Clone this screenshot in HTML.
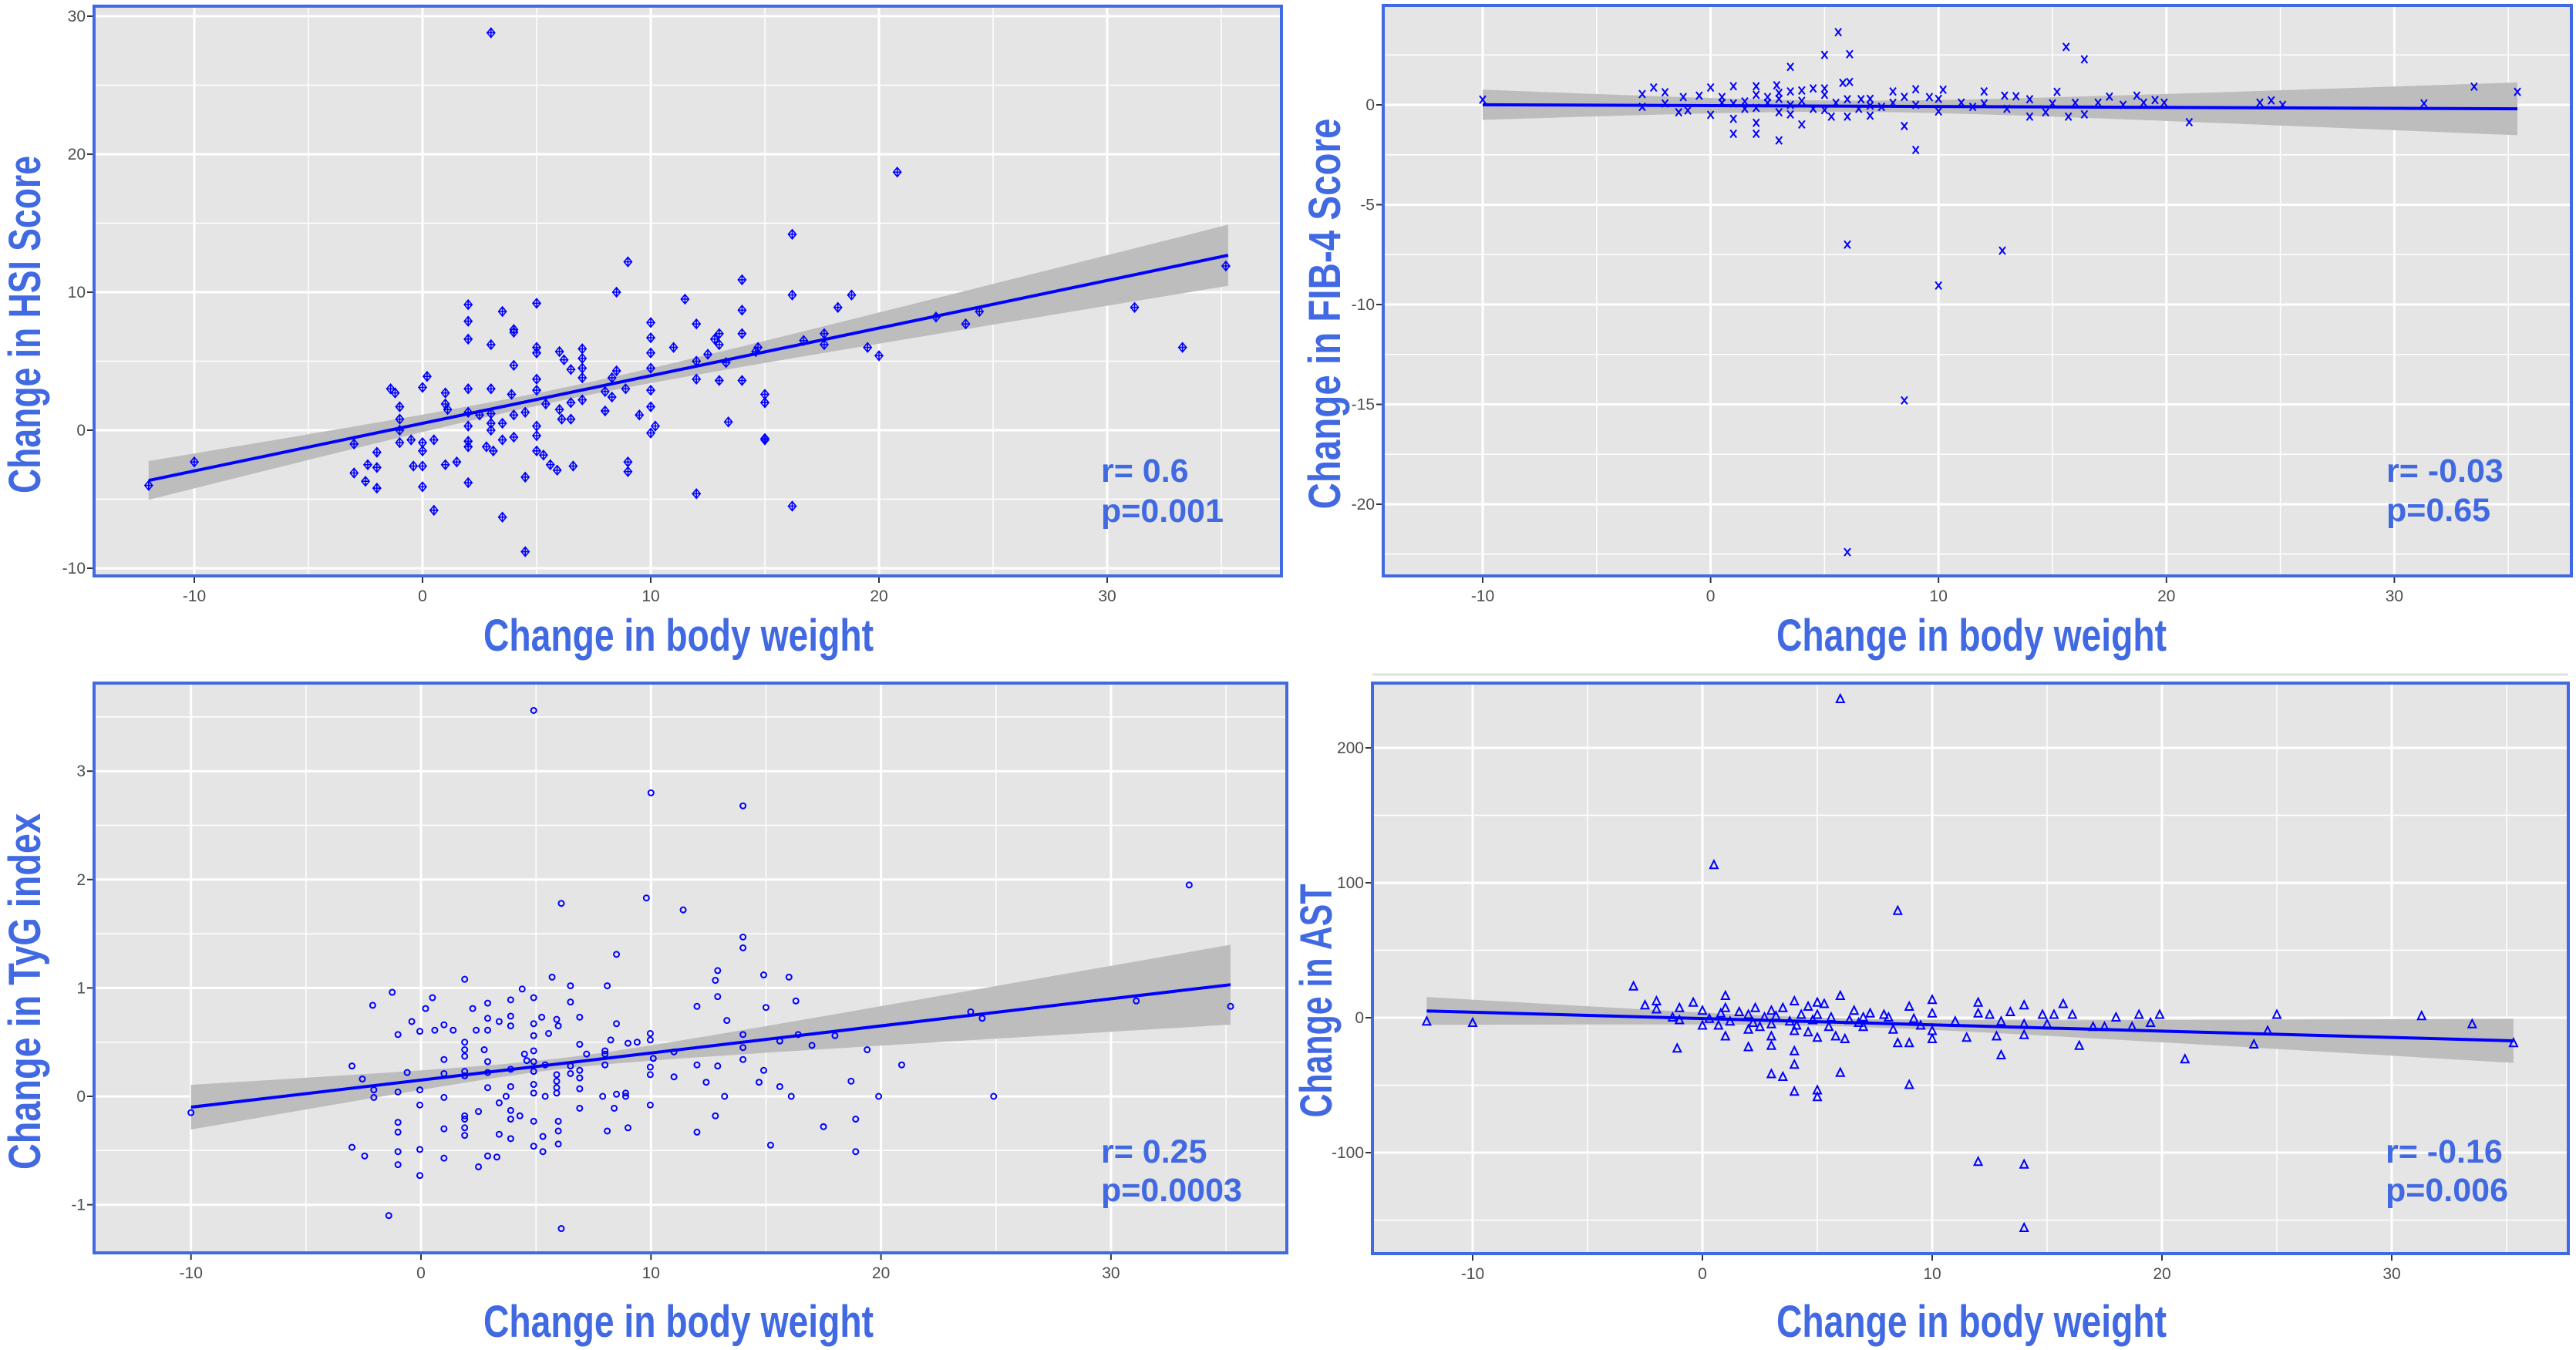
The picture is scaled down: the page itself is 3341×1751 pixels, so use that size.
<!DOCTYPE html>
<html><head><meta charset="utf-8"><title>Body weight change correlations</title>
<style>
html,body{margin:0;padding:0;background:#fff;}
svg{display:block;}
.tick{font-family:"Liberation Sans Narrow","Liberation Sans",sans-serif;font-size:21px;fill:#4D4D4D;}
.atitle{font-family:"Liberation Sans Narrow","Liberation Sans",sans-serif;font-weight:bold;font-size:58px;fill:#4169E1;}
.stat{font-family:"Liberation Sans",sans-serif;font-weight:bold;font-size:43px;fill:#4169E1;}
</style></head>
<body>
<svg id="chart" width="3341" height="1751" viewBox="0 0 3341 1751" xmlns="http://www.w3.org/2000/svg"></svg>
<script>
// ---------- DATA ----------
const hsiData = [[3,28.8],[9,12.2],[8.5,10],[14,10.9],[11.5,9.5],[2,9.1],[2,7.9],[2,6.6],[3.5,8.6],[5,9.2],[4,7.3],[4,7.1],[3,6.2],[10,7.8],[10,6.7],[12,7.7],[14,8.7],[14,7],[13,7],[12.8,6.6],[11,6],[5,6],[5,5.6],[6,5.7],[7,5.9],[7,5.2],[7,4.5],[7,3.8],[4,4.7],[6.5,4.4],[6.2,5.1],[10,5.6],[10,4.5],[12,5],[12.5,5.5],[12,3.7],[13,3.6],[14,3.6],[13.3,4.9],[8.5,4.3],[8.3,3.8],[5,3.7],[5,2.9],[3,3],[2,3],[0.2,3.9],[0,3.1],[-1.4,3],[-1.2,2.7],[1,2.7],[1,1.9],[1.1,1.5],[-1,1.7],[-1,0.8],[-1,0],[-1,-0.9],[0,-0.9],[0,-1.5],[-0.5,-0.7],[0.5,-0.7],[2,1.3],[2,0.3],[2,-0.8],[2,-1.2],[2.5,1.1],[3,1.2],[3,0.5],[3,0],[2.8,-1.2],[3.1,-1.5],[3.5,0.5],[3.5,-0.7],[4,1.1],[4,-0.5],[3.9,2.6],[4.5,1.3],[5,0.3],[5,-0.4],[5,-1.5],[5.3,-1.8],[5.6,-2.5],[5.9,-2.9],[6.6,-2.6],[5.4,1.9],[6,1.5],[6.1,0.8],[6.5,0.8],[6.5,2],[7,2.2],[8,2.8],[8,1.4],[8.3,2.4],[8.9,3],[9.5,1.1],[10.2,0.3],[10,-0.2],[10,1.7],[10,2.9],[13.4,0.6],[9,-2.3],[9,-3],[12,-4.6],[4.5,-3.4],[3.5,-6.3],[4.5,-8.8],[0.5,-5.8],[0,-2.6],[0,-4.1],[-0.4,-2.6],[1,-2.5],[1.5,-2.3],[2,-3.8],[-2,-1.6],[-2,-2.7],[-2,-4.2],[-2.5,-3.7],[-2.4,-2.5],[-3,-3.1],[-3,-1],[-10,-2.3],[-12,-4],[15,2.6],[15,-0.6],[14.7,6],[15,2],[16.2,9.8],[16.2,14.2],[20.8,18.7],[18.8,9.8],[18.2,8.9],[17.6,7],[16.7,6.5],[14.6,5.7],[17.6,6.2],[19.5,6],[20,5.4],[15,2],[15,-0.7],[16.2,-5.5],[22.5,8.2],[24.4,8.6],[31.2,8.9],[33.3,6],[35.2,11.9],[23.8,7.7],[13,6.2]];
const hsiFit = [0.5, 0.345];          // intercept, slope
const hsiBand = [0.45, 0.074, 6];     // min half-width, growth, centre x
const hsiStats = ["r= 0.6", "p=0.001"];

const fibData = [[-10,0.26],[-3,0.54],[-3,-0.1],[-2.5,0.87],[-2,0.63],[-2,0.07],[-1.4,-0.37],[-1.2,0.39],[-1,-0.28],[-0.5,0.46],[0,0.87],[0,-0.5],[0.5,0.39],[1,0.93],[1,0.07],[1,-0.7],[1,-1.45],[1.5,0.17],[2,0.93],[2,0.5],[2,-0.15],[2,-0.9],[2,-1.45],[2.5,0.39],[2.9,0.98],[3,0.6],[3,-1.78],[3,-0.37],[3.5,1.9],[3.5,0.67],[3.5,-0.48],[4,-0.98],[4,0.72],[4.5,0.82],[5,2.5],[5,0.82],[5,-0.26],[5.3,-0.59],[5.6,3.64],[5.8,1.1],[6,-7],[6,-22.4],[6.1,2.54],[6.1,1.15],[6,0.28],[6,-0.59],[6.6,0.28],[7,-0.54],[7,-0.04],[8,0.67],[8.5,-1.06],[8.5,-14.8],[9,0.78],[9,-2.26],[9.6,0.39],[10,-0.33],[10,-9.05],[10.2,0.76],[11,0.11],[12,0.67],[12,0.07],[12.8,-7.3],[12.9,0.46],[13.4,0.43],[14,0.28],[14,-0.59],[14.7,-0.37],[15,0.07],[15.2,0.65],[15.6,2.9],[15.7,-0.59],[16.4,2.28],[16.4,-0.48],[17,0.11],[17.5,0.41],[18.1,0],[18.7,0.46],[19,0.11],[19.5,0.24],[19.9,0.11],[21,-0.87],[24.1,0.11],[24.6,0.22],[25.1,0],[31.3,0.07],[33.5,0.91],[35.4,0.65],[0.5,0.1],[1.5,-0.2],[2.5,0.1],[3,0.3],[3.5,0],[4,0.2],[4.5,-0.2],[5,0.5],[5.5,0.1],[6.5,-0.2],[7,0.3],[7.5,-0.1],[8,0.1],[8.5,0.4],[9,0],[10,0.3],[11.5,-0.1],[13,-0.2],[16,0.1]];
const fibFit = [-0.04, -0.0045];
const fibBand = [0.28, 0.044, 6];
const fibStats = ["r= -0.03", "p=0.65"];

const tygData = [[-10,-0.15],[4.9,3.56],[10,2.8],[14,2.68],[33.4,1.95],[6.1,1.78],[9.8,1.83],[11.4,1.72],[14,1.47],[14,1.37],[8.5,1.31],[1.9,1.08],[5.7,1.1],[6.5,1.02],[8.1,1.02],[4.4,0.99],[-1.25,0.96],[-2.1,0.84],[0.5,0.91],[0.2,0.81],[2.25,0.81],[2.9,0.86],[3.9,0.89],[4.9,0.91],[6.5,0.87],[3.9,0.74],[2.9,0.72],[3.4,0.69],[5.25,0.73],[5.9,0.71],[-0.4,0.69],[1,0.66],[1.4,0.61],[2.4,0.61],[2.9,0.61],[3.9,0.65],[4.9,0.67],[5.97,0.65],[6.9,0.73],[8.5,0.67],[12.9,1.16],[12.8,1.07],[14.9,1.12],[16,1.1],[12.9,0.92],[12,0.83],[15,0.82],[16.3,0.88],[13.3,0.7],[-1,0.57],[-0.05,0.6],[0.6,0.61],[5.55,0.58],[4.9,0.56],[1.9,0.5],[1.9,0.43],[1.9,0.37],[2.75,0.43],[4.5,0.39],[4.9,0.42],[6.9,0.48],[8.25,0.52],[9,0.49],[9.4,0.5],[9.97,0.58],[9.97,0.52],[8,0.42],[7.2,0.39],[8,0.39],[1,0.34],[2.9,0.32],[3.9,0.25],[4.6,0.33],[4.9,0.32],[5.4,0.29],[6.5,0.28],[6.9,0.24],[8,0.29],[10.1,0.35],[9.97,0.27],[9.97,0.2],[11,0.41],[14,0.57],[14,0.45],[14,0.34],[15.6,0.51],[16.4,0.57],[17,0.47],[18,0.56],[19.4,0.43],[20.9,0.29],[23.9,0.78],[24.4,0.72],[31.1,0.88],[35.2,0.83],[-3,0.28],[-0.6,0.22],[-2.55,0.16],[-2.05,0.06],[-2.05,-0.01],[-1,0.04],[-0.05,0.06],[-0.05,-0.08],[1,0.21],[1,-0.01],[1.9,0.23],[1.9,0.19],[2.9,0.22],[2.9,0.08],[3.7,0],[3.9,0.09],[3.9,-0.13],[3.4,-0.06],[4.3,-0.18],[4.9,0.23],[4.9,0.11],[4.9,0.03],[5.4,0],[5.9,0.2],[5.9,0.14],[5.9,0.08],[5.9,0.03],[6.5,0.21],[6.9,0.17],[6.9,0.07],[6.9,-0.11],[7.9,0],[8.5,0.02],[8.9,0.03],[8.9,0],[8.4,-0.11],[9.97,-0.08],[11,0.18],[12,0.29],[12.9,0.28],[12.4,0.13],[13.2,0],[14.7,0.13],[14.9,0.24],[15.6,0.09],[16.1,0],[18.7,0.14],[19.9,0],[24.9,0],[-1,-0.24],[-1,-0.33],[-1,-0.51],[-1,-0.63],[-3,-0.47],[-2.45,-0.55],[-0.05,-0.49],[-0.05,-0.73],[1,-0.3],[1,-0.57],[1.9,-0.18],[1.9,-0.21],[1.9,-0.29],[1.9,-0.36],[2.5,-0.14],[2.5,-0.65],[2.9,-0.55],[3.3,-0.56],[3.4,-0.35],[3.9,-0.21],[3.9,-0.39],[4.9,-0.23],[4.9,-0.46],[5.3,-0.37],[5.3,-0.51],[5.97,-0.23],[5.97,-0.32],[5.97,-0.44],[8.1,-0.32],[9,-0.29],[12,-0.33],[12.8,-0.18],[15.2,-0.45],[17.5,-0.28],[18.9,-0.21],[18.9,-0.51],[-1.4,-1.1],[6.1,-1.22]];
const tygFit = [0.15, 0.025];
const tygBand = [0.05, 0.0125, 6];
const tygStats = ["r= 0.25", "p=0.0003"];

const astData = [[6,236],[0.5,113],[8.5,79],[-3,23],[-12,-3],[-10,-4],[-2.5,9],[-2,12],[-2,6],[-1.3,0],[-1.1,-23],[-1,7],[-1,-2],[-0.4,11],[0,5],[0,-6],[0.7,-6],[1,16],[1,7],[1,-14],[1.6,4],[2,-22],[2,-9],[2,2],[2.3,7],[2.5,-7],[3,-14],[3,-21],[3,-42],[3,5],[3,-5],[3.5,-44],[3.5,7],[4,12],[4,-25],[4,-35],[4,-55],[4,-10],[4.6,8],[4.6,-11],[5,11],[5,-15],[5,-54],[5,-59],[5,2],[5.3,10],[5.5,-7],[5.8,-14],[6,16],[6,-41],[6.2,-16],[6.6,5],[7,0],[7,-7],[7.9,2],[8.3,-9],[8.5,-19],[9,-19],[9,8],[9,-50],[9.5,-6],[10,13],[10,3],[10,-16],[10,-10],[11,-3],[11.5,-15],[12,11],[12,3],[12,-107],[12.5,2],[12.8,-14],[13,-28],[13,-3],[13.4,4],[14,9],[14,-5],[14,-13],[14,-109],[14,-156],[14.8,2],[15,-5],[15.3,2],[15.7,10],[16.1,2],[16.4,-21],[17,-7],[17.5,-7],[18,0],[18.7,-7],[19,2],[19.5,-4],[19.9,2],[21,-31],[24,-20],[24.6,-10],[25,2],[31.3,1],[33.5,-5],[35.3,-19],[0.3,-1],[1.2,-3],[2.7,0],[3.2,1],[3.8,-3],[4.3,2],[4.8,-2],[5.6,0],[6.4,-2],[7.3,3],[8.1,0],[9.2,-1],[0.8,3],[2.2,-4],[4.1,-6],[6.8,-4]];
const astFit = [-0.6, -0.468];
const astBand = [3, 0.55, 6];
const astStats = ["r= -0.16", "p=0.006"];

const xTicks = [-10, 0, 10, 20, 30];
const hsiYTicks = [-10, 0, 10, 20, 30];
const fibYTicks = [0, -5, -10, -15, -20];
const tygYTicks = [-1, 0, 1, 2, 3];
const astYTicks = [-100, 0, 100, 200];

// ---------- DRAWING ----------
const NS = "http://www.w3.org/2000/svg";
const svg = document.getElementById("chart");
function mk(tag, attrs, parent) {
  const e = document.createElementNS(NS, tag);
  for (const k in attrs) e.setAttribute(k, attrs[k]);
  (parent || svg).appendChild(e);
  return e;
}
const BLUE = "#0000FF", ROYAL = "#4169E1";

const panels = [
  {id:"hsi", data:hsiData, fit:hsiFit, band:hsiBand, stats:hsiStats, yTicks:hsiYTicks, yStep:5,
   box:[122,8,1662,747], x0:548, kx:29.6, y0:558, ky:17.9, xr:[-12,35.3],
   ytitle:"Change in HSI Score", ytx:52, yty:421, ytl:438, xtitleY:844, xcx:880, stx:1428, sty:[625,677], marker:"diamondplus"},
  {id:"fib4", data:fibData, fit:fibFit, band:fibBand, stats:fibStats, yTicks:fibYTicks, yStep:2.5,
   box:[1794,7,3335,747], x0:2218.6, kx:29.56, y0:136, ky:25.9, xr:[-10,35.4],
   ytitle:"Change in FIB-4 Score", ytx:1738, yty:407, ytl:507, xtitleY:844, xcx:2557, stx:3095, sty:[625,676], marker:"x"},
  {id:"tyg", data:tygData, fit:tygFit, band:tygBand, stats:tygStats, yTicks:tygYTicks, yStep:0.5,
   box:[122,886,1669,1625], x0:546, kx:29.83, y0:1422, ky:140.6, xr:[-10,35.2],
   ytitle:"Change in TyG index", ytx:52, yty:1286, ytl:462, xtitleY:1734, xcx:880, stx:1428, sty:[1508,1558], marker:"circle"},
  {id:"ast", data:astData, fit:astFit, band:astBand, stats:astStats, yTicks:astYTicks, yStep:50,
   box:[1780,886,3331,1626], x0:2208, kx:29.8, y0:1320, ky:1.75, xr:[-12,35.3],
   ytitle:"Change in AST", ytx:1727, yty:1298, ytl:303, xtitleY:1734, xcx:2557, stx:3094, sty:[1508,1558], marker:"triangle"}
];

const sep = mk("line",{x1:1780,x2:3331,y1:875,y2:875,stroke:"#E0E0E0","stroke-width":3});



panels.forEach(p => {
  const g = mk("g", {});
  
  
  const [L,T,R,B] = p.box;
  const sx = v => p.x0 + v * p.kx;
  const sy = v => p.y0 - v * p.ky;
  const bg = mk("rect",{x:L,y:T,width:R-L,height:B-T,fill:"#E5E5E5"},g);
  
  
  const grid = mk("g",{},g);
  
  
  const xmin = (L - p.x0)/p.kx, xmax = (R - p.x0)/p.kx;
  for (let v = Math.ceil(xmin/5)*5; v <= xmax; v += 5) {
    const major = xTicks.includes(v);
    mk("line",{x1:sx(v),x2:sx(v),y1:T,y2:B,stroke:"#fff","stroke-width":major?3:1.5},grid);
  }
  const ymin = (p.y0 - B)/p.ky, ymax = (p.y0 - T)/p.ky;
  for (let v = Math.ceil(ymin/p.yStep)*p.yStep; v <= ymax; v += p.yStep) {
    const major = p.yTicks.some(t => Math.abs(t - v) < 1e-9);
    mk("line",{x1:L,x2:R,y1:sy(v),y2:sy(v),stroke:"#fff","stroke-width":major?3:1.5},grid);
  }
  const [a,b,m] = p.band;
  const hw = x => Math.sqrt(a*a + b*b*(x-m)*(x-m));
  const fy = x => p.fit[0] + p.fit[1]*x;
  let up = [], lo = [];
  const n = 60;
  for (let i = 0; i <= n; i++) {
    const x = p.xr[0] + (p.xr[1]-p.xr[0])*i/n;
    up.push(sx(x).toFixed(1)+","+sy(fy(x)+hw(x)).toFixed(1));
    lo.unshift(sx(x).toFixed(1)+","+sy(fy(x)-hw(x)).toFixed(1));
  }
  const band = mk("polygon",{points:up.concat(lo).join(" "),fill:"#BDBDBD"},g);
  
  
  const pts = mk("g",{fill:"none",stroke:BLUE,"stroke-width":2},g);
  
  
  p.data.forEach(d => {
    const cx = sx(d[0]), cy = sy(d[1]);
    let e;
    if (p.marker === "diamondplus") {
      e = mk("path",{d:`M${cx-5},${cy}L${cx},${cy-6}L${cx+5},${cy}L${cx},${cy+6}Z M${cx-5},${cy}H${cx+5} M${cx},${cy-6}V${cy+6}`,"stroke-width":1.6},pts);
    } else if (p.marker === "x") {
      e = mk("path",{d:`M${cx-4},${cy-5}L${cx+4},${cy+5}M${cx+4},${cy-5}L${cx-4},${cy+5}`},pts);
    } else if (p.marker === "circle") {
      e = mk("circle",{cx:cx,cy:cy,r:3.5},pts);
    } else {
      e = mk("path",{d:`M${cx},${cy-6}L${cx+5},${cy+4}L${cx-5},${cy+4}Z`},pts);
    }
    
    
  });
  const ln = mk("line",{x1:sx(p.xr[0]),y1:sy(fy(p.xr[0])),x2:sx(p.xr[1]),y2:sy(fy(p.xr[1])),stroke:BLUE,"stroke-width":4},g);
  
  
  const br = mk("rect",{x:L,y:T,width:R-L,height:B-T,fill:"none",stroke:ROYAL,"stroke-width":4},g);
  
  
  const xa = mk("g",{},g);
  
  
  xTicks.forEach(v => {
    mk("line",{x1:sx(v),x2:sx(v),y1:B+2,y2:B+9,stroke:"#333","stroke-width":2},xa);
    const t = mk("text",{x:sx(v),y:B+33,"text-anchor":"middle",class:"tick"},xa);
    t.textContent = v;
    
    
  });
  const ya = mk("g",{},g);
  
  
  p.yTicks.forEach(v => {
    mk("line",{x1:L-9,x2:L-2,y1:sy(v),y2:sy(v),stroke:"#333","stroke-width":2},ya);
    const t = mk("text",{x:L-11,y:sy(v)+7,"text-anchor":"end",class:"tick"},ya);
    t.textContent = v;
    
    
  });
  const xt = mk("text",{x:p.xcx,y:p.xtitleY,"text-anchor":"middle",class:"atitle",textLength:506,lengthAdjust:"spacingAndGlyphs"},g);
  xt.textContent = "Change in body weight";
  
  
  const yt = mk("text",{x:0,y:0,"text-anchor":"middle",class:"atitle",textLength:p.ytl,lengthAdjust:"spacingAndGlyphs",
    transform:`translate(${p.ytx},${p.yty}) rotate(-90)`},g);
  yt.textContent = p.ytitle;
  
  
  p.stats.forEach((s,i) => {
    const t = mk("text",{x:p.stx,y:p.sty[i],class:"stat"},g);
    t.textContent = s;
    
    
  });
});
</script>
</body></html>
